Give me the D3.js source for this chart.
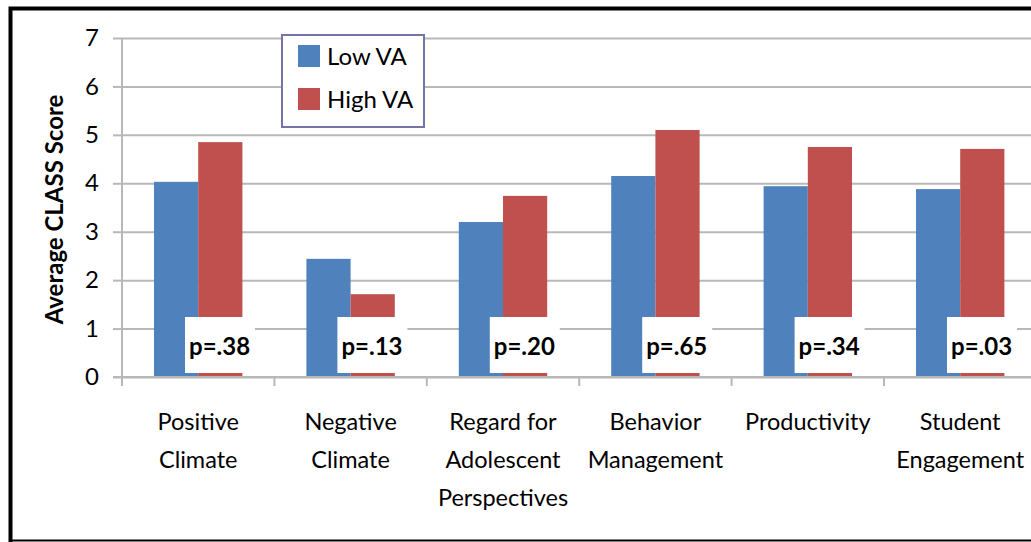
<!DOCTYPE html>
<html>
<head>
<meta charset="utf-8">
<script src="https://cdn.jsdelivr.net/npm/d3@7"></script>
<style>
  body { margin: 0; background: #fff; }
  svg { display: block; }
  svg text { font-family: Lato, "Open Sans", sans-serif; }
</style>
</head>
<body>
<div id="chart"></div>
<script>

var categories = ["Positive\nClimate", "Negative\nClimate", "Regard for\nAdolescent\nPerspectives",
    "Behavior\nManagement", "Productivity", "Student\nEngagement"];
var lowVA = [4.03, 2.44, 3.20, 4.15, 3.94, 3.88];
var highVA = [4.85, 1.71, 3.74, 5.10, 4.75, 4.71];
var pLabels = ["p=.38", "p=.13", "p=.20", "p=.65", "p=.34", "p=.03"];
var seriesNames = ["Low VA", "High VA"];
var seriesColors = ["#4f81bd", "#c0504d"];
var yTicks = [0, 1, 2, 3, 4, 5, 6, 7];

var createChart = {
    init: function() {

        var width = 1031, height = 542;
        var margin = {top: 38, left: 122, bottom: 165};
        var catWidth = 152.4;

        var svg = d3.select("#chart").append("svg")
            .attr("width", width)
            .attr("height", height);

        var x = d3.scaleBand()
            .domain(categories)
            .range([margin.left, margin.left + catWidth * categories.length]);

        var x1 = d3.scaleBand()
            .domain(seriesNames)
            .range([32, catWidth - 32]);

        var y = d3.scaleLinear()
            .domain([0, 7])
            .range([height - margin.bottom, margin.top]);

        // gridlines
        svg.append("g")
            .attr("class", "grid")
            .attr("transform", "translate(" + margin.left + ",0)")
            .call(d3.axisLeft(y).tickValues(yTicks).tickSize(-(width - margin.left)).tickFormat(""))
            .call(function(g) { g.select(".domain").remove(); })
            .selectAll("line")
            .attr("stroke", "#b8b8b8")
            .attr("stroke-width", 2);

        // y axis
        var yAxis = svg.append("g")
            .attr("transform", "translate(" + margin.left + ",0)")
            .call(d3.axisLeft(y).tickValues(yTicks).tickFormat(d3.format("d"))
                .tickSize(9).tickPadding(14).tickSizeOuter(0));
        yAxis.select(".domain").attr("stroke", "#b8b8b8").attr("stroke-width", 2)
            .attr("d", "M0," + y(7) + "V" + (y(0) + 9));
        yAxis.selectAll("line").attr("stroke", "#b8b8b8").attr("stroke-width", 2);
        yAxis.selectAll("text")
            .attr("font-size", 24)
            .attr("fill", "#000");

        // bars
        var groups = svg.append("g")
            .selectAll("g")
            .data(categories)
            .enter()
            .append("g")
            .attr("transform", function(d) { return "translate(" + x(d) + ",0)"; });

        groups.selectAll("rect")
            .data(function(d, i) {
                return [{s: seriesNames[0], v: lowVA[i], c: seriesColors[0]},
                        {s: seriesNames[1], v: highVA[i], c: seriesColors[1]}];
            })
            .enter()
            .append("rect")
            .attr("x", function(d) { return x1(d.s); })
            .attr("width", x1.bandwidth())
            .attr("y", function(d) { return y(d.v); })
            .attr("height", function(d) { return y(0) - y(d.v); })
            .attr("fill", function(d) { return d.c; });

        // x axis
        var xAxis = svg.append("g")
            .attr("transform", "translate(0," + y(0) + ")")
            .call(d3.axisBottom(x).tickSize(0).tickFormat(""));
        xAxis.select(".domain").attr("stroke", "#b8b8b8").attr("stroke-width", 2)
            .attr("d", "M" + (margin.left - 9) + ",0H" + width);
        xAxis.selectAll(".sep")
            .data(categories)
            .enter()
            .append("line")
            .attr("class", "sep")
            .attr("x1", function(d) { return x(d) + catWidth; })
            .attr("x2", function(d) { return x(d) + catWidth; })
            .attr("y1", 0)
            .attr("y2", 9)
            .attr("stroke", "#b8b8b8")
            .attr("stroke-width", 2);

        xAxis.selectAll(".cat")
            .data(categories)
            .enter()
            .append("text")
            .attr("class", "cat")
            .attr("text-anchor", "middle")
            .attr("font-size", 23.5)
            .attr("fill", "#000")
            .attr("x", function(d) { return x(d) + catWidth / 2; })
            .attr("y", 53)
            .each(function(d) {
                var t = d3.select(this);
                d.split("\n").forEach(function(line, i) {
                    t.append("tspan")
                        .attr("x", x(d) + catWidth / 2)
                        .attr("dy", i === 0 ? 0 : 38)
                        .text(line);
                });
            });

        // p-value boxes
        var pg = groups.append("g")
            .attr("transform", "translate(63," + (y(0) - 60) + ")");
        pg.append("rect")
            .attr("width", 70)
            .attr("height", 56)
            .attr("fill", "#fff");
        pg.append("text")
            .attr("x", 4)
            .attr("y", 38)
            .attr("font-size", 24)
            .attr("font-weight", "bold")
            .attr("fill", "#000")
            .text(function(d, i) { return pLabels[i]; });

        // y title
        svg.append("text")
            .attr("transform", "translate(63," + (y(3.5) + 2) + ") rotate(-90)")
            .attr("text-anchor", "middle")
            .attr("font-size", 24)
            .attr("font-weight", "bold")
            .attr("fill", "#000")
            .text("Average CLASS Score");

        // legend
        var legend = svg.append("g")
            .attr("transform", "translate(282,35)");
        legend.append("rect")
            .attr("width", 142)
            .attr("height", 92)
            .attr("fill", "#fff")
            .attr("stroke", "#7474a8")
            .attr("stroke-width", 2);
        var items = legend.selectAll(".item")
            .data(seriesNames)
            .enter()
            .append("g")
            .attr("class", "item")
            .attr("transform", function(d, i) { return "translate(16," + (10 + i * 43) + ")"; });
        items.append("rect")
            .attr("width", 22)
            .attr("height", 22)
            .attr("fill", function(d, i) { return seriesColors[i]; });
        items.append("text")
            .attr("x", 29)
            .attr("y", 20)
            .attr("font-size", 24)
            .attr("fill", "#000")
            .text(function(d) { return d; });

        // outer frame
        svg.append("path")
            .attr("d", "M10.5," + height + "V8.5H" + width)
            .attr("fill", "none")
            .attr("stroke", "#000")
            .attr("stroke-width", 4);
        svg.append("line")
            .attr("x1", 9).attr("x2", width)
            .attr("y1", 540.5).attr("y2", 540.5)
            .attr("stroke", "#000")
            .attr("stroke-width", 2);
    }
};

createChart.init();
</script>
</body>
</html>
